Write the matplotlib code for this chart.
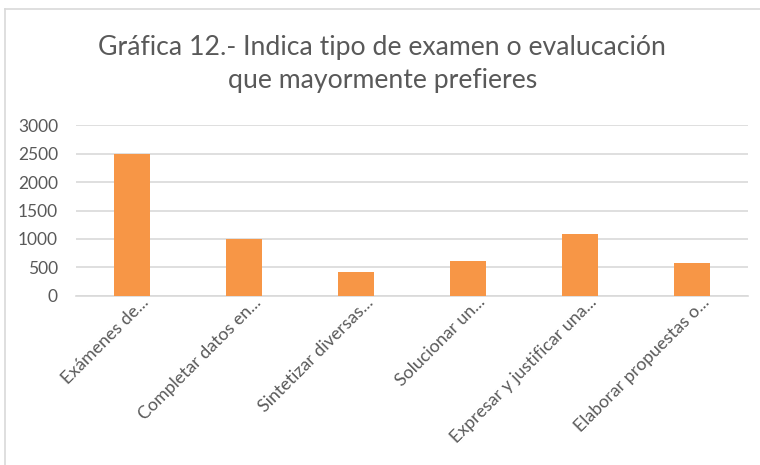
import matplotlib.pyplot as plt
from matplotlib.lines import Line2D
from matplotlib.transforms import ScaledTranslation

# Data
categories = [
    "Exámenes de...",
    "Completar datos en...",
    "Sintetizar diversas...",
    "Solucionar un...",
    "Expresar y justificar una...",
    "Elaborar propuestas o...",
]
values = [2500, 1000, 410, 610, 1090, 570]
yticks = [0, 500, 1000, 1500, 2000, 2500, 3000]

plt.rcParams['font.family'] = ['Lato', 'DejaVu Sans']

fig = plt.figure(figsize=(7.6, 4.65), dpi=100)
ax = fig.add_axes([0.1, 0.364, 0.884, 0.3665])

x = range(len(categories))
ax.bar(x, values, width=0.32, color='#F79646', zorder=3)

ax.set_xlim(-0.5, len(categories) - 0.5)
ax.set_ylim(0, 3000)
ax.set_yticks(yticks)
ax.yaxis.grid(True, color='#D9D9D9', linewidth=1.2, zorder=0)
ax.set_axisbelow(True)
for side in ['top', 'right', 'left']:
    ax.spines[side].set_visible(False)
ax.spines['bottom'].set_color('#D9D9D9')
ax.spines['bottom'].set_linewidth(1.2)

ax.tick_params(axis='y', length=0, pad=13, labelsize=12.5, labelcolor='#595959')
ax.tick_params(axis='x', length=0, pad=1)
ax.set_xticks(list(x))
ax.set_xticklabels(categories, rotation=45, ha='right', va='top',
                   rotation_mode='anchor', fontsize=12.8, color='#595959')
# nudge the rotated labels a little right/up, as in the original
shift = ScaledTranslation(9 / 100, 3 / 100, fig.dpi_scale_trans)
for lbl in ax.get_xticklabels():
    lbl.set_transform(lbl.get_transform() + shift)

fig.text(0.503, 0.862, "Gráfica 12.- Indica tipo de examen o evalucación\nque mayormente prefieres",
         ha='center', va='center', fontsize=19.2, color='#595959', linespacing=1.4)

# light frame of the chart area (top and left edges visible)
fig.add_artist(Line2D([0.007, 1.0], [0.981, 0.981], transform=fig.transFigure,
                      color='#D9D9D9', linewidth=1.2))
fig.add_artist(Line2D([0.007, 0.007], [0.0, 0.981], transform=fig.transFigure,
                      color='#D9D9D9', linewidth=1.2))

plt.savefig('out.png', dpi=100)
